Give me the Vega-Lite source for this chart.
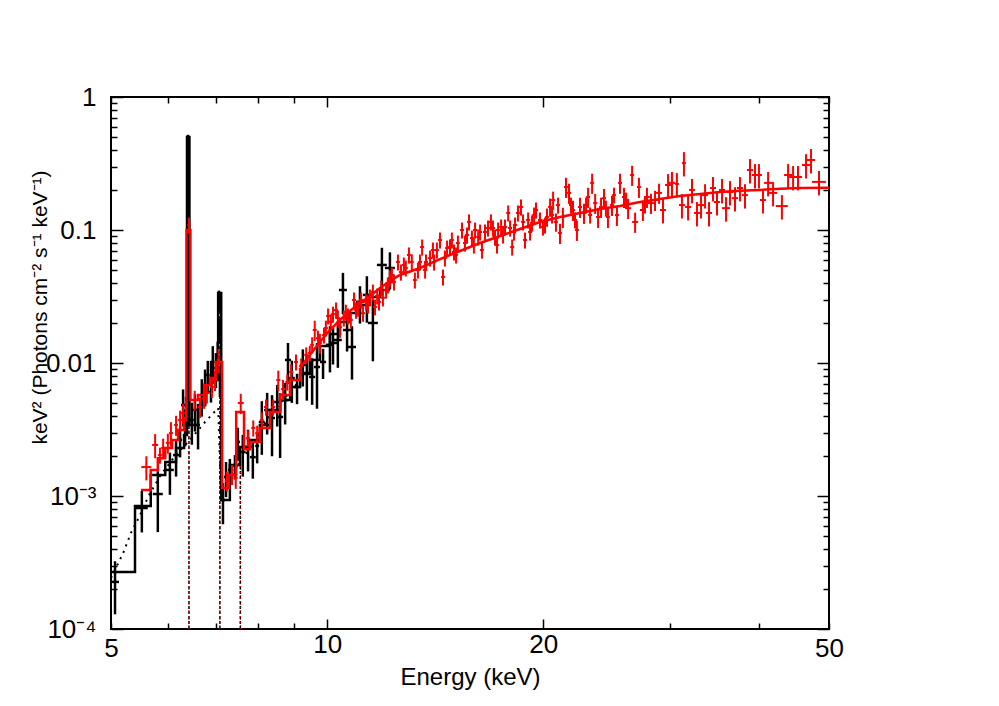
{
"$schema": "https://vega.github.io/schema/vega-lite/v6.json",
"width": 718, "height": 532,
"autosize": {"type": "none"},
"padding": {"left": 111, "top": 97, "right": 170, "bottom": 77},
"background": "white",
"config": {
 "view": {"stroke": "black", "strokeWidth": 2},
 "font": "Liberation Sans",
 "axis": {"labelFont": "Liberation Sans", "titleFont": "Liberation Sans", "labelFontSize": 26, "titleFontSize": 24, "titleFontWeight": "normal", "labelColor": "black", "titleColor": "black", "tickColor": "black", "tickWidth": 1.5, "domain": false, "grid": false}
},
"datasets": {
 "lines": [{"e": 6.42, "b": 0.0001, "t": 0.004}, {"e": 7.09, "b": 0.0001, "t": 0.03}, {"e": 7.57, "b": 0.0001, "t": 0.0022}],
 "cont": [{"e":5.0,"f":0.000242},{"e":5.2,"f":0.000373},{"e":5.33,"f":0.000527},{"e":5.49,"f":0.00072},{"e":5.63,"f":0.000983},{"e":5.85,"f":0.00141},{"e":6.14,"f":0.002},{"e":6.44,"f":0.00264},{"e":6.76,"f":0.0036},{"e":7.05,"f":0.00459},{"e":7.11,"f":0.00111},{"e":7.44,"f":0.00157},{"e":7.81,"f":0.0023},{"e":8.33,"f":0.00406},{"e":9.17,"f":0.00745}],
 "mdlA": [{"e":5.0,"f":0.000268},{"e":5.4,"f":0.000841},{"e":5.68,"f":0.00144},{"e":5.95,"f":0.0018},{"e":6.16,"f":0.0023},{"e":6.32,"f":0.00287},{"e":6.38,"f":0.5},{"e":6.43,"f":0.00342},{"e":6.61,"f":0.00483},{"e":6.76,"f":0.00605},{"e":6.91,"f":0.00745},{"e":7.05,"f":0.0336},{"e":7.12,"f":0.000933},{"e":7.32,"f":0.00171},{"e":7.56,"f":0.00234},{"e":7.81,"f":0.00264},{"e":8.06,"f":0.00342},{"e":8.33,"f":0.00443},{"e":8.6,"f":0.00527},{"e":8.88,"f":0.0066},{"e":9.17,"f":0.00826},{"e":9.46,"f":0.01054},{"e":9.77,"f":0.01342},{"e":10.09,"f":0.01652},{"e":10.42,"f":0.0203},{"e":10.76,"f":0.0238},{"e":11.11,"f":0.0273},{"e":11.47,"f":0.0313},{"e":11.85,"f":0.0354},{"e":12.23,"f":0.0354}],
 "mdlBs": [{"e":5.505,"f":0.00111},{"e":5.68,"f":0.00157},{"e":5.81,"f":0.00192},{"e":5.95,"f":0.0023},{"e":6.08,"f":0.00264},{"e":6.2,"f":0.00313},{"e":6.32,"f":0.00386},{"e":6.37,"f":0.1},{"e":6.45,"f":0.00527},{"e":6.61,"f":0.00575},{"e":6.74,"f":0.00683},{"e":6.87,"f":0.00771},{"e":7.0,"f":0.01018},{"e":7.14,"f":0.00115},{"e":7.3,"f":0.00144},{"e":7.47,"f":0.00428},{"e":7.66,"f":0.00225},{"e":7.81,"f":0.00255},{"e":8.06,"f":0.00325},{"e":8.33,"f":0.00428},{"e":8.6,"f":0.00575},{"e":8.88,"f":0.00745},{"e":9.17,"f":0.0092}],
 "mdlBc": [{"e":9.17,"f":0.0092},{"e":9.46,"f":0.0115},{"e":9.77,"f":0.0144},{"e":10.09,"f":0.0177},{"e":10.42,"f":0.0211},{"e":10.76,"f":0.0246},{"e":11.11,"f":0.0283},{"e":11.47,"f":0.0319},{"e":11.85,"f":0.0367},{"e":12.23,"f":0.0414},{"e":12.63,"f":0.0459},{"e":13.47,"f":0.0518},{"e":14.36,"f":0.0605},{"e":15.31,"f":0.0695},{"e":16.33,"f":0.0798},{"e":17.41,"f":0.0901},{"e":18.56,"f":0.1018},{"e":19.79,"f":0.1148},{"e":21.1,"f":0.1253},{"e":22.5,"f":0.1343},{"e":23.99,"f":0.1439},{"e":25.58,"f":0.1515},{"e":27.27,"f":0.1624},{"e":29.08,"f":0.171},{"e":31.0,"f":0.18},{"e":33.06,"f":0.1865},{"e":35.25,"f":0.193},{"e":37.58,"f":0.197},{"e":40.07,"f":0.2},{"e":42.72,"f":0.204},{"e":45.56,"f":0.207},{"e":50,"f":0.208}],
 "ptsA": [
{"e":5.065,"e1":5.0,"e2":5.13,"f":0.000226,"f1":0.000129,"f2":0.000323},
{"e":5.52,"e1":5.414,"e2":5.626,"f":0.000812,"f1":0.000532,"f2":0.001092},
{"e":5.81,"e1":5.717,"e2":5.903,"f":0.001035,"f1":0.000535,"f2":0.001535},
{"e":6.04,"e1":5.963,"e2":6.117,"f":0.00157,"f1":0.00102,"f2":0.00212},
{"e":6.16,"e1":6.101,"e2":6.219,"f":0.00203,"f1":0.0014,"f2":0.00266},
{"e":6.24,"e1":6.2,"e2":6.28,"f":0.00264,"f1":0.00195,"f2":0.00333},
{"e":6.3,"e1":6.26,"e2":6.34,"f":0.00483,"f1":0.00333,"f2":0.00633},
{"e":6.34,"e1":6.3,"e2":6.38,"f":0.00342,"f1":0.00236,"f2":0.00448},
{"e":6.36,"e1":6.34,"e2":6.38,"f":0.00443,"f1":0.00328,"f2":0.00558},
{"e":6.4,"e1":6.388,"e2":6.412,"f":0.45,"f1":0.38,"f2":0.52},
{"e":6.39,"e1":6.378,"e2":6.402,"f":0.168,"f1":0.124,"f2":0.212},
{"e":6.41,"e1":6.398,"e2":6.422,"f":0.0595,"f1":0.044,"f2":0.075},
{"e":6.385,"e1":6.373,"e2":6.397,"f":0.0177,"f1":0.0131,"f2":0.0223},
{"e":6.415,"e1":6.403,"e2":6.427,"f":0.00627,"f1":0.00407,"f2":0.00847},
{"e":6.48,"e1":6.44,"e2":6.52,"f":0.00373,"f1":0.00243,"f2":0.00503},
{"e":6.545,"e1":6.505,"e2":6.585,"f":0.00443,"f1":0.00305,"f2":0.00581},
{"e":6.61,"e1":6.57,"e2":6.65,"f":0.00342,"f1":0.00224,"f2":0.0046},
{"e":6.69,"e1":6.65,"e2":6.73,"f":0.00575,"f1":0.00395,"f2":0.00755},
{"e":6.76,"e1":6.72,"e2":6.8,"f":0.00683,"f1":0.00473,"f2":0.00893},
{"e":6.82,"e1":6.78,"e2":6.86,"f":0.00813,"f1":0.00588,"f2":0.01038},
{"e":6.89,"e1":6.85,"e2":6.93,"f":0.00771,"f1":0.00504,"f2":0.01038},
{"e":6.93,"e1":6.89,"e2":6.97,"f":0.01018,"f1":0.00698,"f2":0.01338},
{"e":7.0,"e1":6.96,"e2":7.04,"f":0.00917,"f1":0.00647,"f2":0.01187},
{"e":7.04,"e1":7.02,"e2":7.06,"f":0.0115,"f1":0.0085,"f2":0.0145},
{"e":7.07,"e1":7.058,"e2":7.082,"f":0.0298,"f1":0.0246,"f2":0.035},
{"e":7.08,"e1":7.068,"e2":7.092,"f":0.0177,"f1":0.014,"f2":0.0214},
{"e":7.09,"e1":7.078,"e2":7.102,"f":0.00745,"f1":0.00555,"f2":0.00935},
{"e":7.16,"e1":7.115,"e2":7.205,"f":0.000933,"f1":0.000613,"f2":0.001253},
{"e":7.23,"e1":7.185,"e2":7.275,"f":0.00139,"f1":0.00098,"f2":0.0018},
{"e":7.32,"e1":7.275,"e2":7.365,"f":0.00157,"f1":0.00124,"f2":0.0019},
{"e":7.44,"e1":7.37,"e2":7.51,"f":0.00168,"f1":0.00133,"f2":0.00203},
{"e":7.51,"e1":7.46,"e2":7.56,"f":0.00255,"f1":0.00184,"f2":0.00326},
{"e":7.63,"e1":7.56,"e2":7.7,"f":0.00214,"f1":0.0014,"f2":0.00288},
{"e":7.76,"e1":7.685,"e2":7.835,"f":0.00234,"f1":0.00153,"f2":0.00315},
{"e":7.88,"e1":7.805,"e2":7.955,"f":0.00196,"f1":0.00135,"f2":0.00257},
{"e":7.99,"e1":7.94,"e2":8.04,"f":0.00238,"f1":0.00176,"f2":0.003},
{"e":8.11,"e1":8.032,"e2":8.188,"f":0.0036,"f1":0.00204,"f2":0.00516},
{"e":8.25,"e1":8.17,"e2":8.33,"f":0.00443,"f1":0.0029,"f2":0.00596},
{"e":8.38,"e1":8.3,"e2":8.46,"f":0.00386,"f1":0.00199,"f2":0.00573},
{"e":8.52,"e1":8.438,"e2":8.602,"f":0.00509,"f1":0.00333,"f2":0.00685},
{"e":8.6,"e1":8.517,"e2":8.683,"f":0.00393,"f1":0.00193,"f2":0.00593},
{"e":8.74,"e1":8.656,"e2":8.824,"f":0.00527,"f1":0.00345,"f2":0.00709},
{"e":8.82,"e1":8.735,"e2":8.905,"f":0.01054,"f1":0.00694,"f2":0.01414},
{"e":8.93,"e1":8.844,"e2":9.016,"f":0.00771,"f1":0.00501,"f2":0.01041},
{"e":9.08,"e1":8.993,"e2":9.167,"f":0.0066,"f1":0.0049,"f2":0.0083},
{"e":9.25,"e1":9.161,"e2":9.339,"f":0.00966,"f1":0.00666,"f2":0.01266},
{"e":9.37,"e1":9.28,"e2":9.46,"f":0.00841,"f1":0.00521,"f2":0.01161},
{"e":9.53,"e1":9.438,"e2":9.622,"f":0.00785,"f1":0.00485,"f2":0.01085},
{"e":9.68,"e1":9.587,"e2":9.773,"f":0.00933,"f1":0.00453,"f2":0.01413},
{"e":9.87,"e1":9.775,"e2":9.965,"f":0.01018,"f1":0.00758,"f2":0.01278},
{"e":10.09,"e1":9.96,"e2":10.22,"f":0.0137,"f1":0.0085,"f2":0.0189},
{"e":10.19,"e1":10.06,"e2":10.32,"f":0.01414,"f1":0.00974,"f2":0.01854},
{"e":10.35,"e1":10.22,"e2":10.48,"f":0.0149,"f1":0.0092,"f2":0.0206},
{"e":10.52,"e1":10.385,"e2":10.655,"f":0.0354,"f1":0.0232,"f2":0.0476},
{"e":10.66,"e1":10.524,"e2":10.796,"f":0.0177,"f1":0.0122,"f2":0.0232},
{"e":10.83,"e1":10.691,"e2":10.969,"f":0.0132,"f1":0.0075,"f2":0.0189},
{"e":11.11,"e1":10.968,"e2":11.252,"f":0.0288,"f1":0.0198,"f2":0.0378},
{"e":11.36,"e1":11.215,"e2":11.505,"f":0.0325,"f1":0.0201,"f2":0.0449},
{"e":11.58,"e1":11.395,"e2":11.765,"f":0.02,"f1":0.0103,"f2":0.0297},
{"e":11.92,"e1":11.73,"e2":12.11,"f":0.0546,"f1":0.0357,"f2":0.0735},
{"e":12.23,"e1":12.034,"e2":12.426,"f":0.0518,"f1":0.0357,"f2":0.0679}],
 "ptsB": [
{"e":5.6,"e1":5.51,"e2":5.69,"f":0.00165,"f1":0.00131,"f2":0.00199},
{"e":5.76,"e1":5.705,"e2":5.815,"f":0.00242,"f1":0.00192,"f2":0.00292},
{"e":5.85,"e1":5.813,"e2":5.887,"f":0.00203,"f1":0.00175,"f2":0.00231},
{"e":5.91,"e1":5.872,"e2":5.948,"f":0.0023,"f1":0.0019,"f2":0.0027},
{"e":6.0,"e1":5.962,"e2":6.038,"f":0.00251,"f1":0.00208,"f2":0.00294},
{"e":6.06,"e1":6.021,"e2":6.099,"f":0.00297,"f1":0.00235,"f2":0.00359},
{"e":6.16,"e1":6.121,"e2":6.199,"f":0.00342,"f1":0.00283,"f2":0.00401},
{"e":6.24,"e1":6.2,"e2":6.28,"f":0.00373,"f1":0.00308,"f2":0.00438},
{"e":6.3,"e1":6.26,"e2":6.34,"f":0.00421,"f1":0.00348,"f2":0.00494},
{"e":6.36,"e1":6.34,"e2":6.38,"f":0.00443,"f1":0.00366,"f2":0.0052},
{"e":6.42,"e1":6.39,"e2":6.45,"f":0.109,"f1":0.094,"f2":0.124},
{"e":6.54,"e1":6.498,"e2":6.582,"f":0.00527,"f1":0.00436,"f2":0.00618},
{"e":6.65,"e1":6.607,"e2":6.693,"f":0.00467,"f1":0.00386,"f2":0.00548},
{"e":6.74,"e1":6.697,"e2":6.783,"f":0.00546,"f1":0.00452,"f2":0.0064},
{"e":6.8,"e1":6.756,"e2":6.844,"f":0.00595,"f1":0.00495,"f2":0.00695},
{"e":6.91,"e1":6.866,"e2":6.954,"f":0.0066,"f1":0.00546,"f2":0.00774},
{"e":6.98,"e1":6.935,"e2":7.025,"f":0.00745,"f1":0.00615,"f2":0.00875},
{"e":7.06,"e1":7.02,"e2":7.1,"f":0.01054,"f1":0.00834,"f2":0.01274},
{"e":7.25,"e1":7.204,"e2":7.296,"f":0.0013,"f1":0.00108,"f2":0.00152},
{"e":7.37,"e1":7.323,"e2":7.417,"f":0.00146,"f1":0.00121,"f2":0.00171},
{"e":7.46,"e1":7.412,"e2":7.508,"f":0.00137,"f1":0.00113,"f2":0.00161},
{"e":7.58,"e1":7.507,"e2":7.653,"f":0.005,"f1":0.00413,"f2":0.00587},
{"e":7.76,"e1":7.71,"e2":7.81,"f":0.00272,"f1":0.00234,"f2":0.0031},
{"e":7.89,"e1":7.84,"e2":7.94,"f":0.00325,"f1":0.0028,"f2":0.0037},
{"e":7.99,"e1":7.939,"e2":8.041,"f":0.00297,"f1":0.00256,"f2":0.00338},
{"e":8.11,"e1":8.058,"e2":8.162,"f":0.00373,"f1":0.00321,"f2":0.00425},
{"e":8.22,"e1":8.167,"e2":8.273,"f":0.00467,"f1":0.00402,"f2":0.00532},
{"e":8.41,"e1":8.356,"e2":8.464,"f":0.00467,"f1":0.00402,"f2":0.00532},
{"e":8.55,"e1":8.495,"e2":8.605,"f":0.00745,"f1":0.00615,"f2":0.00875},
{"e":8.68,"e1":8.624,"e2":8.736,"f":0.00637,"f1":0.00527,"f2":0.00747},
{"e":8.8,"e1":8.744,"e2":8.856,"f":0.0072,"f1":0.0062,"f2":0.0082},
{"e":8.91,"e1":8.853,"e2":8.967,"f":0.00856,"f1":0.00736,"f2":0.00976},
{"e":9.05,"e1":8.992,"e2":9.108,"f":0.01018,"f1":0.00878,"f2":0.01158},
{"e":9.2,"e1":9.141,"e2":9.259,"f":0.0095,"f1":0.0082,"f2":0.0108},
{"e":9.35,"e1":9.29,"e2":9.41,"f":0.0115,"f1":0.0099,"f2":0.0131},
{"e":9.46,"e1":9.399,"e2":9.521,"f":0.01187,"f1":0.01027,"f2":0.01347},
{"e":9.53,"e1":9.469,"e2":9.591,"f":0.0137,"f1":0.0118,"f2":0.0156},
{"e":9.61,"e1":9.548,"e2":9.672,"f":0.0177,"f1":0.0146,"f2":0.0208},
{"e":9.71,"e1":9.648,"e2":9.772,"f":0.01538,"f1":0.01328,"f2":0.01748},
{"e":9.77,"e1":9.707,"e2":9.833,"f":0.01415,"f1":0.01175,"f2":0.01655},
{"e":9.9,"e1":9.837,"e2":9.963,"f":0.0162,"f1":0.014,"f2":0.0184},
{"e":9.96,"e1":9.896,"e2":10.024,"f":0.01832,"f1":0.01582,"f2":0.02082},
{"e":10.03,"e1":9.966,"e2":10.094,"f":0.0226,"f1":0.0195,"f2":0.0257},
{"e":10.12,"e1":10.055,"e2":10.185,"f":0.0204,"f1":0.0176,"f2":0.0232},
{"e":10.19,"e1":10.125,"e2":10.255,"f":0.0233,"f1":0.0201,"f2":0.0265},
{"e":10.29,"e1":10.224,"e2":10.356,"f":0.025,"f1":0.0215,"f2":0.0285},
{"e":10.35,"e1":10.284,"e2":10.416,"f":0.0218,"f1":0.0188,"f2":0.0248},
{"e":10.42,"e1":10.353,"e2":10.487,"f":0.01864,"f1":0.01544,"f2":0.02184},
{"e":10.55,"e1":10.482,"e2":10.618,"f":0.0218,"f1":0.0188,"f2":0.0248},
{"e":10.62,"e1":10.552,"e2":10.688,"f":0.02415,"f1":0.02085,"f2":0.02745},
{"e":10.69,"e1":10.622,"e2":10.758,"f":0.0226,"f1":0.0195,"f2":0.0257},
{"e":10.79,"e1":10.721,"e2":10.859,"f":0.0211,"f1":0.0182,"f2":0.024},
{"e":10.9,"e1":10.83,"e2":10.97,"f":0.0298,"f1":0.0257,"f2":0.0339},
{"e":10.97,"e1":10.9,"e2":11.04,"f":0.025,"f1":0.0215,"f2":0.0285},
{"e":11.04,"e1":10.969,"e2":11.111,"f":0.0259,"f1":0.0223,"f2":0.0295},
{"e":11.15,"e1":11.079,"e2":11.221,"f":0.0298,"f1":0.0257,"f2":0.0339},
{"e":11.22,"e1":11.148,"e2":11.292,"f":0.0237,"f1":0.0204,"f2":0.027},
{"e":11.33,"e1":11.257,"e2":11.403,"f":0.0288,"f1":0.0248,"f2":0.0328},
{"e":11.4,"e1":11.327,"e2":11.473,"f":0.0273,"f1":0.0235,"f2":0.0311},
{"e":11.47,"e1":11.397,"e2":11.543,"f":0.0314,"f1":0.0271,"f2":0.0357},
{"e":11.58,"e1":11.506,"e2":11.654,"f":0.0342,"f1":0.0295,"f2":0.0389},
{"e":11.66,"e1":11.585,"e2":11.735,"f":0.0264,"f1":0.0228,"f2":0.03},
{"e":11.74,"e1":11.665,"e2":11.815,"f":0.0319,"f1":0.0275,"f2":0.0363},
{"e":11.81,"e1":11.734,"e2":11.886,"f":0.0288,"f1":0.0248,"f2":0.0328},
{"e":11.89,"e1":11.814,"e2":11.966,"f":0.0366,"f1":0.0316,"f2":0.0416},
{"e":11.96,"e1":11.883,"e2":12.037,"f":0.0309,"f1":0.0266,"f2":0.0352},
{"e":12.08,"e1":12.003,"e2":12.157,"f":0.0354,"f1":0.0305,"f2":0.0403},
{"e":12.15,"e1":12.072,"e2":12.228,"f":0.0386,"f1":0.0333,"f2":0.0439},
{"e":12.23,"e1":12.152,"e2":12.308,"f":0.0436,"f1":0.0376,"f2":0.0496},
{"e":12.31,"e1":12.231,"e2":12.389,"f":0.0459,"f1":0.0396,"f2":0.0522},
{"e":12.39,"e1":12.311,"e2":12.469,"f":0.0407,"f1":0.0351,"f2":0.0463},
{"e":12.55,"e1":12.47,"e2":12.63,"f":0.0575,"f1":0.0496,"f2":0.0654},
{"e":12.67,"e1":12.589,"e2":12.751,"f":0.0483,"f1":0.0416,"f2":0.055},
{"e":12.79,"e1":12.708,"e2":12.872,"f":0.0546,"f1":0.0471,"f2":0.0621},
{"e":12.87,"e1":12.788,"e2":12.952,"f":0.0518,"f1":0.0447,"f2":0.0589},
{"e":13.0,"e1":12.917,"e2":13.083,"f":0.0649,"f1":0.0559,"f2":0.0739},
{"e":13.12,"e1":13.036,"e2":13.204,"f":0.0575,"f1":0.0495,"f2":0.0655},
{"e":13.25,"e1":13.165,"e2":13.335,"f":0.0421,"f1":0.0363,"f2":0.0479},
{"e":13.38,"e1":13.294,"e2":13.466,"f":0.05,"f1":0.0431,"f2":0.0569},
{"e":13.47,"e1":13.384,"e2":13.556,"f":0.0575,"f1":0.0496,"f2":0.0654},
{"e":13.56,"e1":13.473,"e2":13.647,"f":0.0745,"f1":0.0642,"f2":0.0848},
{"e":13.69,"e1":13.602,"e2":13.778,"f":0.05,"f1":0.0431,"f2":0.0569},
{"e":13.73,"e1":13.642,"e2":13.818,"f":0.0575,"f1":0.0495,"f2":0.0655},
{"e":13.91,"e1":13.821,"e2":13.999,"f":0.0616,"f1":0.0531,"f2":0.0701},
{"e":14.04,"e1":13.95,"e2":14.13,"f":0.0707,"f1":0.0609,"f2":0.0805},
{"e":14.09,"e1":14.0,"e2":14.18,"f":0.0575,"f1":0.0495,"f2":0.0655},
{"e":14.22,"e1":14.129,"e2":14.311,"f":0.0707,"f1":0.0609,"f2":0.0805},
{"e":14.36,"e1":14.268,"e2":14.452,"f":0.0841,"f1":0.0725,"f2":0.0957},
{"e":14.5,"e1":14.407,"e2":14.593,"f":0.0443,"f1":0.0382,"f2":0.0504},
{"e":14.59,"e1":14.497,"e2":14.683,"f":0.0616,"f1":0.0531,"f2":0.0701},
{"e":14.69,"e1":14.596,"e2":14.784,"f":0.0732,"f1":0.0631,"f2":0.0833},
{"e":14.83,"e1":14.735,"e2":14.925,"f":0.0745,"f1":0.0642,"f2":0.0848},
{"e":14.92,"e1":14.825,"e2":15.015,"f":0.0841,"f1":0.0725,"f2":0.0957},
{"e":15.02,"e1":14.924,"e2":15.116,"f":0.0683,"f1":0.0589,"f2":0.0777},
{"e":15.12,"e1":15.023,"e2":15.217,"f":0.0649,"f1":0.0559,"f2":0.0739},
{"e":15.21,"e1":15.113,"e2":15.307,"f":0.0798,"f1":0.0688,"f2":0.0908},
{"e":15.41,"e1":15.311,"e2":15.509,"f":0.1,"f1":0.0862,"f2":0.1138},
{"e":15.56,"e1":15.46,"e2":15.66,"f":0.0798,"f1":0.0688,"f2":0.0908},
{"e":15.66,"e1":15.56,"e2":15.76,"f":0.0917,"f1":0.079,"f2":0.1044},
{"e":15.76,"e1":15.66,"e2":15.86,"f":0.115,"f1":0.099,"f2":0.131},
{"e":15.91,"e1":15.808,"e2":16.012,"f":0.087,"f1":0.075,"f2":0.099},
{"e":16.01,"e1":15.908,"e2":16.112,"f":0.0771,"f1":0.0665,"f2":0.0877},
{"e":16.07,"e1":15.967,"e2":16.173,"f":0.1,"f1":0.0862,"f2":0.1138},
{"e":16.23,"e1":16.126,"e2":16.334,"f":0.0886,"f1":0.0764,"f2":0.1008},
{"e":16.33,"e1":16.225,"e2":16.435,"f":0.0966,"f1":0.0833,"f2":0.1099},
{"e":16.43,"e1":16.325,"e2":16.535,"f":0.0707,"f1":0.0609,"f2":0.0805},
{"e":16.59,"e1":16.484,"e2":16.696,"f":0.0966,"f1":0.0832,"f2":0.11},
{"e":16.75,"e1":16.643,"e2":16.857,"f":0.1035,"f1":0.0892,"f2":0.1178},
{"e":16.91,"e1":16.802,"e2":17.018,"f":0.115,"f1":0.099,"f2":0.131},
{"e":17.02,"e1":16.911,"e2":17.129,"f":0.1035,"f1":0.0892,"f2":0.1178},
{"e":17.13,"e1":17.02,"e2":17.24,"f":0.0886,"f1":0.0763,"f2":0.1009},
{"e":17.24,"e1":17.13,"e2":17.35,"f":0.0771,"f1":0.0665,"f2":0.0877},
{"e":17.3,"e1":17.189,"e2":17.411,"f":0.1,"f1":0.0862,"f2":0.1138},
{"e":17.47,"e1":17.358,"e2":17.582,"f":0.1053,"f1":0.0907,"f2":0.1199},
{"e":17.58,"e1":17.467,"e2":17.693,"f":0.0917,"f1":0.079,"f2":0.1044},
{"e":17.69,"e1":17.577,"e2":17.803,"f":0.1053,"f1":0.0907,"f2":0.1199},
{"e":17.87,"e1":17.756,"e2":17.984,"f":0.1343,"f1":0.1157,"f2":0.1529},
{"e":17.98,"e1":17.865,"e2":18.095,"f":0.1035,"f1":0.0892,"f2":0.1178},
{"e":18.1,"e1":17.984,"e2":18.216,"f":0.0745,"f1":0.0642,"f2":0.0848},
{"e":18.21,"e1":18.093,"e2":18.327,"f":0.0966,"f1":0.0833,"f2":0.1099},
{"e":18.27,"e1":18.153,"e2":18.387,"f":0.109,"f1":0.0939,"f2":0.1241},
{"e":18.44,"e1":18.322,"e2":18.558,"f":0.1343,"f1":0.1157,"f2":0.1529},
{"e":18.62,"e1":18.501,"e2":18.739,"f":0.149,"f1":0.1284,"f2":0.1696},
{"e":18.74,"e1":18.62,"e2":18.86,"f":0.115,"f1":0.0991,"f2":0.1309},
{"e":18.86,"e1":18.739,"e2":18.981,"f":0.0841,"f1":0.0725,"f2":0.0957},
{"e":19.05,"e1":18.928,"e2":19.172,"f":0.119,"f1":0.1025,"f2":0.1355},
{"e":19.17,"e1":19.047,"e2":19.293,"f":0.0966,"f1":0.0833,"f2":0.1099},
{"e":19.29,"e1":19.167,"e2":19.413,"f":0.113,"f1":0.0974,"f2":0.1286},
{"e":19.42,"e1":19.296,"e2":19.544,"f":0.1297,"f1":0.1118,"f2":0.1476},
{"e":19.54,"e1":19.415,"e2":19.665,"f":0.1414,"f1":0.1218,"f2":0.161},
{"e":19.79,"e1":19.663,"e2":19.917,"f":0.119,"f1":0.1025,"f2":0.1355},
{"e":19.98,"e1":19.852,"e2":20.108,"f":0.1053,"f1":0.0907,"f2":0.1199},
{"e":20.11,"e1":19.981,"e2":20.239,"f":0.109,"f1":0.094,"f2":0.124},
{"e":20.24,"e1":20.11,"e2":20.37,"f":0.1253,"f1":0.1058,"f2":0.1448},
{"e":20.44,"e1":20.309,"e2":20.571,"f":0.149,"f1":0.1258,"f2":0.1722},
{"e":20.57,"e1":20.438,"e2":20.702,"f":0.1297,"f1":0.1118,"f2":0.1476},
{"e":20.64,"e1":20.508,"e2":20.772,"f":0.168,"f1":0.1418,"f2":0.1942},
{"e":20.83,"e1":20.697,"e2":20.963,"f":0.115,"f1":0.097,"f2":0.133},
{"e":20.97,"e1":20.836,"e2":21.104,"f":0.154,"f1":0.1327,"f2":0.1753},
{"e":21.1,"e1":20.965,"e2":21.235,"f":0.0949,"f1":0.0785,"f2":0.1113},
{"e":21.3,"e1":21.164,"e2":21.436,"f":0.1253,"f1":0.1036,"f2":0.147},
{"e":21.51,"e1":21.372,"e2":21.648,"f":0.2106,"f1":0.1742,"f2":0.247},
{"e":21.72,"e1":21.581,"e2":21.859,"f":0.19,"f1":0.1571,"f2":0.2229},
{"e":21.86,"e1":21.72,"e2":22.0,"f":0.154,"f1":0.1327,"f2":0.1753},
{"e":22.0,"e1":21.859,"e2":22.141,"f":0.1414,"f1":0.1169,"f2":0.1659},
{"e":22.14,"e1":21.998,"e2":22.282,"f":0.119,"f1":0.1026,"f2":0.1354},
{"e":22.28,"e1":22.137,"e2":22.423,"f":0.1,"f1":0.0827,"f2":0.1173},
{"e":22.5,"e1":22.356,"e2":22.644,"f":0.149,"f1":0.1232,"f2":0.1748},
{"e":22.79,"e1":22.644,"e2":22.936,"f":0.1343,"f1":0.1111,"f2":0.1575},
{"e":22.94,"e1":22.793,"e2":23.087,"f":0.154,"f1":0.1327,"f2":0.1753},
{"e":23.09,"e1":22.942,"e2":23.238,"f":0.177,"f1":0.1464,"f2":0.2076},
{"e":23.24,"e1":23.091,"e2":23.389,"f":0.1297,"f1":0.1118,"f2":0.1476},
{"e":23.39,"e1":23.24,"e2":23.54,"f":0.226,"f1":0.187,"f2":0.265},
{"e":23.62,"e1":23.469,"e2":23.771,"f":0.1595,"f1":0.1319,"f2":0.1871},
{"e":23.84,"e1":23.687,"e2":23.993,"f":0.1253,"f1":0.1036,"f2":0.147},
{"e":24.07,"e1":23.916,"e2":24.224,"f":0.149,"f1":0.1232,"f2":0.1748},
{"e":24.3,"e1":24.144,"e2":24.456,"f":0.1737,"f1":0.1437,"f2":0.2037},
{"e":24.45,"e1":24.294,"e2":24.606,"f":0.146,"f1":0.126,"f2":0.166},
{"e":24.61,"e1":24.452,"e2":24.768,"f":0.1253,"f1":0.1036,"f2":0.147},
{"e":24.93,"e1":24.77,"e2":25.09,"f":0.154,"f1":0.1274,"f2":0.1806},
{"e":25.09,"e1":24.929,"e2":25.251,"f":0.183,"f1":0.158,"f2":0.208},
{"e":25.33,"e1":25.168,"e2":25.492,"f":0.1297,"f1":0.1073,"f2":0.1521},
{"e":25.58,"e1":25.416,"e2":25.744,"f":0.226,"f1":0.187,"f2":0.265},
{"e":25.91,"e1":25.744,"e2":26.076,"f":0.177,"f1":0.1464,"f2":0.2076},
{"e":26.08,"e1":25.913,"e2":26.247,"f":0.168,"f1":0.145,"f2":0.191},
{"e":26.25,"e1":25.998,"e2":26.502,"f":0.146,"f1":0.1207,"f2":0.1713},
{"e":26.59,"e1":26.42,"e2":26.76,"f":0.2592,"f1":0.2144,"f2":0.304},
{"e":26.85,"e1":26.592,"e2":27.108,"f":0.115,"f1":0.0951,"f2":0.1349},
{"e":27.18,"e1":27.006,"e2":27.354,"f":0.2106,"f1":0.1742,"f2":0.247},
{"e":27.53,"e1":27.266,"e2":27.794,"f":0.1414,"f1":0.1169,"f2":0.1659},
{"e":27.71,"e1":27.533,"e2":27.887,"f":0.154,"f1":0.133,"f2":0.175},
{"e":27.89,"e1":27.622,"e2":28.158,"f":0.177,"f1":0.1464,"f2":0.2076},
{"e":28.25,"e1":27.979,"e2":28.521,"f":0.1595,"f1":0.1319,"f2":0.1871},
{"e":28.62,"e1":28.345,"e2":28.895,"f":0.168,"f1":0.139,"f2":0.197},
{"e":28.99,"e1":28.712,"e2":29.268,"f":0.19,"f1":0.1571,"f2":0.2229},
{"e":29.36,"e1":29.078,"e2":29.642,"f":0.1414,"f1":0.112,"f2":0.1708},
{"e":29.84,"e1":29.554,"e2":30.126,"f":0.218,"f1":0.1727,"f2":0.2633},
{"e":30.22,"e1":29.93,"e2":30.51,"f":0.226,"f1":0.179,"f2":0.273},
{"e":30.7,"e1":30.503,"e2":30.897,"f":0.222,"f1":0.176,"f2":0.268},
{"e":31.2,"e1":30.9,"e2":31.5,"f":0.154,"f1":0.122,"f2":0.186},
{"e":31.4,"e1":31.2,"e2":31.6,"f":0.319,"f1":0.2527,"f2":0.3853},
{"e":31.82,"e1":31.515,"e2":32.125,"f":0.149,"f1":0.118,"f2":0.18},
{"e":32.22,"e1":31.911,"e2":32.529,"f":0.2,"f1":0.1584,"f2":0.2416},
{"e":32.74,"e1":32.426,"e2":33.054,"f":0.1343,"f1":0.1064,"f2":0.1622},
{"e":33.17,"e1":32.852,"e2":33.488,"f":0.154,"f1":0.122,"f2":0.186},
{"e":33.6,"e1":33.277,"e2":33.923,"f":0.183,"f1":0.145,"f2":0.221},
{"e":34.03,"e1":33.703,"e2":34.357,"f":0.1343,"f1":0.1064,"f2":0.1622},
{"e":34.47,"e1":34.139,"e2":34.801,"f":0.207,"f1":0.164,"f2":0.25},
{"e":34.91,"e1":34.575,"e2":35.245,"f":0.1623,"f1":0.1285,"f2":0.1961},
{"e":35.48,"e1":35.139,"e2":35.821,"f":0.2,"f1":0.1584,"f2":0.2416},
{"e":35.94,"e1":35.48,"e2":36.4,"f":0.146,"f1":0.1156,"f2":0.1764},
{"e":36.4,"e1":36.051,"e2":36.749,"f":0.193,"f1":0.1529,"f2":0.2331},
{"e":36.99,"e1":36.635,"e2":37.345,"f":0.1737,"f1":0.1376,"f2":0.2098},
{"e":37.58,"e1":37.219,"e2":37.941,"f":0.207,"f1":0.164,"f2":0.25},
{"e":38.19,"e1":37.823,"e2":38.557,"f":0.183,"f1":0.145,"f2":0.221},
{"e":38.81,"e1":38.437,"e2":39.183,"f":0.2826,"f1":0.2238,"f2":0.3414},
{"e":39.44,"e1":39.061,"e2":39.819,"f":0.2592,"f1":0.2053,"f2":0.3131},
{"e":39.94,"e1":39.557,"e2":40.323,"f":0.2592,"f1":0.2053,"f2":0.3131},
{"e":40.46,"e1":40.072,"e2":40.848,"f":0.168,"f1":0.1331,"f2":0.2029},
{"e":41.13,"e1":40.604,"e2":41.656,"f":0.226,"f1":0.179,"f2":0.273},
{"e":41.79,"e1":41.255,"e2":42.325,"f":0.19,"f1":0.1505,"f2":0.2295},
{"e":42.99,"e1":42.165,"e2":43.815,"f":0.1513,"f1":0.1198,"f2":0.1828},
{"e":43.85,"e1":43.289,"e2":44.411,"f":0.2592,"f1":0.2053,"f2":0.3131},
{"e":44.56,"e1":43.99,"e2":45.13,"f":0.2504,"f1":0.1984,"f2":0.3024},
{"e":45.27,"e1":44.691,"e2":45.849,"f":0.2504,"f1":0.1984,"f2":0.3024},
{"e":46.45,"e1":45.855,"e2":47.045,"f":0.308,"f1":0.244,"f2":0.372},
{"e":47.2,"e1":46.596,"e2":47.804,"f":0.336,"f1":0.266,"f2":0.406},
{"e":48.42,"e1":47.34,"e2":49.5,"f":0.23,"f1":0.182,"f2":0.278}]
},
"layer": [
 {"data": {"name": "lines"},
  "mark": {"type": "rule", "strokeDash": [3, 2], "strokeWidth": 1.5, "color": "black", "clip": true},
  "encoding": {
   "x": {"field": "e", "type": "quantitative", "scale": {"type": "log", "domain": [5, 50], "nice": false},
    "axis": {"orient": "bottom", "title": "Energy (keV)", "values": [5, 6, 7, 8, 9, 10, 20, 30, 40, 50],
     "labelExpr": "(datum.value == 5 || datum.value == 10 || datum.value == 20 || datum.value == 50) ? format(datum.value, 'd') : ''",
     "tickSize": {"condition": {"test": "datum.value == 10 || datum.value == 20", "value": -10}, "value": -6},
     "labelPadding": 12, "titlePadding": 4, "labelFlush": false, "labelOverlap": false}},
   "y": {"field": "b", "type": "quantitative", "scale": {"type": "log", "domain": [0.0001, 1], "nice": false},
    "axis": {"orient": "left", "title": "keV² (Photons cm⁻² s⁻¹ keV⁻¹)", "titleFontSize": 21,
     "values": [0.0001,0.0002,0.0003,0.0004,0.0005,0.0006,0.0007,0.0008,0.0009,0.001,0.002,0.003,0.004,0.005,0.006,0.007,0.008,0.009,0.01,0.02,0.03,0.04,0.05,0.06,0.07,0.08,0.09,0.1,0.2,0.3,0.4,0.5,0.6,0.7,0.8,0.9,1],
     "labelExpr": "datum.value == 1 ? '1' : datum.value == 0.1 ? '0.1' : datum.value == 0.01 ? '0.01' : datum.value == 0.001 ? '10⁻³' : datum.value == 0.0001 ? '10⁻⁴' : ''",
     "tickSize": {"condition": {"test": "datum.value == 1 || datum.value == 0.1 || datum.value == 0.01 || datum.value == 0.001 || datum.value == 0.0001", "value": -12}, "value": -6},
     "labelPadding": 27, "titleX": -71, "titleY": 210, "titleBaseline": "middle", "titleAngle": -90, "labelFlush": false, "labelOverlap": false}},
   "y2": {"field": "t"}}},
 {"data": {"name": "lines"},
  "mark": {"type": "rule", "strokeDash": [1, 2], "strokeWidth": 1, "color": "red", "clip": true},
  "encoding": {
   "x": {"field": "e", "type": "quantitative",
    "axis": {"orient": "top", "title": null, "labels": false, "values": [5, 6, 7, 8, 9, 10, 20, 30, 40, 50],
     "tickSize": {"condition": {"test": "datum.value == 10 || datum.value == 20", "value": -10}, "value": -6}}},
   "y": {"field": "b", "type": "quantitative",
    "axis": {"orient": "right", "title": null, "labels": false,
     "values": [0.0001,0.0002,0.0003,0.0004,0.0005,0.0006,0.0007,0.0008,0.0009,0.001,0.002,0.003,0.004,0.005,0.006,0.007,0.008,0.009,0.01,0.02,0.03,0.04,0.05,0.06,0.07,0.08,0.09,0.1,0.2,0.3,0.4,0.5,0.6,0.7,0.8,0.9,1],
     "tickSize": {"condition": {"test": "datum.value == 1 || datum.value == 0.1 || datum.value == 0.01 || datum.value == 0.001 || datum.value == 0.0001", "value": -12}, "value": -6}}},
   "y2": {"field": "t"}}},
 {"data": {"name": "cont"},
  "mark": {"type": "line", "strokeDash": [2, 5], "strokeWidth": 2, "color": "black", "clip": true},
  "encoding": {"x": {"field": "e", "type": "quantitative", "axis": null}, "y": {"field": "f", "type": "quantitative", "axis": null}}},
 {"data": {"name": "mdlA"},
  "mark": {"type": "line", "interpolate": "step-after", "strokeWidth": 2.5, "color": "black", "clip": true},
  "encoding": {"x": {"field": "e", "type": "quantitative", "axis": null}, "y": {"field": "f", "type": "quantitative", "axis": null}}},
 {"data": {"name": "ptsA"},
  "mark": {"type": "rule", "color": "black", "strokeWidth": 2.5, "clip": true},
  "encoding": {"x": {"field": "e", "type": "quantitative", "axis": null}, "y": {"field": "f1", "type": "quantitative", "axis": null}, "y2": {"field": "f2"}}},
 {"data": {"name": "ptsA"},
  "mark": {"type": "rule", "color": "black", "strokeWidth": 2.5, "clip": true},
  "encoding": {"x": {"field": "e1", "type": "quantitative", "axis": null}, "x2": {"field": "e2"}, "y": {"field": "f", "type": "quantitative", "axis": null}}},
 {"data": {"name": "mdlBs"},
  "mark": {"type": "line", "interpolate": "step-after", "strokeWidth": 2.5, "color": "red", "clip": true},
  "encoding": {"x": {"field": "e", "type": "quantitative", "axis": null}, "y": {"field": "f", "type": "quantitative", "axis": null}}},
 {"data": {"name": "mdlBc"},
  "mark": {"type": "line", "strokeWidth": 2.5, "color": "red", "clip": true},
  "encoding": {"x": {"field": "e", "type": "quantitative", "axis": null}, "y": {"field": "f", "type": "quantitative", "axis": null}}},
 {"data": {"name": "ptsB"},
  "mark": {"type": "rule", "color": "red", "strokeWidth": 2, "clip": true},
  "encoding": {"x": {"field": "e", "type": "quantitative", "axis": null}, "y": {"field": "f1", "type": "quantitative", "axis": null}, "y2": {"field": "f2"}}},
 {"data": {"name": "ptsB"},
  "mark": {"type": "rule", "color": "red", "strokeWidth": 2, "clip": true},
  "encoding": {"x": {"field": "e1", "type": "quantitative", "axis": null}, "x2": {"field": "e2"}, "y": {"field": "f", "type": "quantitative", "axis": null}}}
]
}
